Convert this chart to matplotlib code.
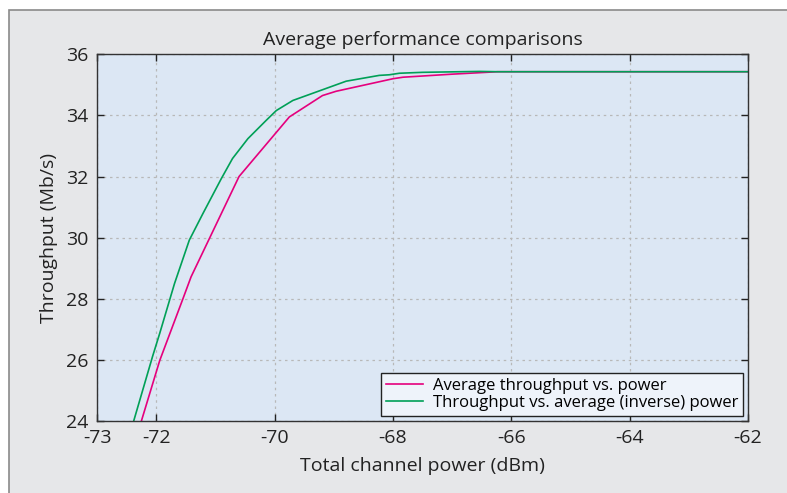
import matplotlib
matplotlib.use('Agg')
import matplotlib.pyplot as plt
from matplotlib.patches import Rectangle

plt.rcParams['font.family'] = ['Open Sans', 'DejaVu Sans']
plt.rcParams['axes.unicode_minus'] = False

# pink: average throughput vs. power
power_avg = [-72.25, -71.94, -71.55, -71.41, -70.60, -69.75, -69.19, -68.96,
             -68.0, -67.83, -67.0, -66.23, -62.0]
tput_avg = [24.0, 25.98, 27.99, 28.72, 32.0, 33.95, 34.65, 34.79,
            35.2, 35.25, 35.35, 35.43, 35.43]

# green: throughput vs. average (inverse) power
power_inv = [-72.38, -72.06, -71.94, -71.69, -71.44, -71.21, -70.90, -70.71,
             -70.45, -70.14, -69.97, -69.69, -69.19, -68.79, -68.23, -68.06,
             -67.89, -67.5, -66.54, -66.23, -62.0]
tput_inv = [24.0, 26.12, 26.87, 28.5, 29.92, 30.79, 31.93, 32.59,
            33.24, 33.84, 34.16, 34.49, 34.84, 35.12, 35.31, 35.33,
            35.38, 35.41, 35.44, 35.43, 35.43]

x_ticks = [-73, -72, -70, -68, -66, -64, -62]
y_ticks = [24, 26, 28, 30, 32, 34, 36]

fig = plt.figure(figsize=(7.87, 4.93), dpi=100)
fig.patches.append(Rectangle((9 / 787, -0.01), 1.0, 1 - 10 / 493 + 0.01,
                             transform=fig.transFigure, facecolor='#e6e7e9',
                             edgecolor='#8a8a8a', linewidth=1.2, zorder=-10))

ax = fig.add_axes([97 / 787, 1 - 421 / 493, (748 - 97) / 787, (421 - 54.3) / 493])
ax.set_facecolor('#dce7f4')

ax.plot(power_avg, tput_avg, color='#e5007d', lw=1.2, label='Average throughput vs. power')
ax.plot(power_inv, tput_inv, color='#00a057', lw=1.2, label='Throughput vs. average (inverse) power')

ax.set_xlim(-73, -62)
ax.set_ylim(24, 36)
ax.set_xticks(x_ticks)
ax.set_yticks(y_ticks)
ax.tick_params(direction='in', top=True, right=True, labelsize=14, colors='#222222',
               length=5, width=1.0, pad=6)
ax.grid(True, color='#b8b8b8', linestyle=(0, (2, 3)), linewidth=0.9)
for s in ax.spines.values():
    s.set_color('#333333')
    s.set_linewidth(1.0)

ax.set_title('Average performance comparisons', fontsize=14, color='#222222', pad=7)
ax.set_xlabel('Total channel power (dBm)', fontsize=14, color='#222222', labelpad=7)
ax.set_ylabel('Throughput (Mb/s)', fontsize=14, color='#222222', labelpad=6)

leg = ax.legend(loc='lower right', fontsize=12, frameon=True, fancybox=False,
                borderpad=0.3, handlelength=2.2, labelspacing=0.05,
                borderaxespad=0.3, handletextpad=0.6)
leg.get_frame().set_facecolor('#eef3fa')
leg.get_frame().set_edgecolor('#222222')
leg.get_frame().set_alpha(1)

fig.savefig('out.png', dpi=100)
